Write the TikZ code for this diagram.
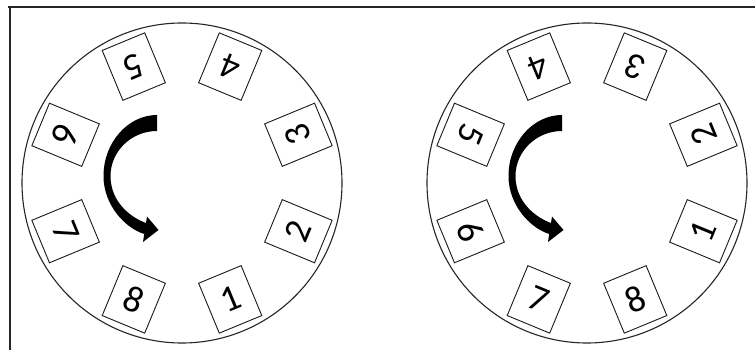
\documentclass[tikz,border=0pt]{standalone}
\usepackage{fontspec}
\setmainfont{Carlito}
\begin{document}
\begin{tikzpicture}[x=1pt,y=-1pt,
  wheel/.style={circle, draw=black!85, line width=1.1pt, minimum size=320pt, inner sep=0pt},
  slot/.style={draw=black!90, line width=0.9pt, minimum width=46pt, minimum height=54pt, inner sep=0pt, font=\fontsize{37}{37}\selectfont},
  frameline/.style={draw=black!85, line width=1.4pt},
  bigturn/.pic={
    \fill[black] (-25,-68) .. controls (-54,-68) and (-78.5,-40.5) .. (-78.5,-7)
      .. controls (-78.5,22) and (-57,45) .. (-37.8,51)
      -- (-39,59) -- (-23.5,47) -- (-35,33.5) -- (-36,40)
      .. controls (-50,35) and (-71.5,20) .. (-71.5,-7)
      .. controls (-71.5,-31.7) and (-50.6,-52) .. (-25,-52) -- cycle;
  }]
\useasboundingbox (0,0) rectangle (755,355);
\draw[frameline] (8,7) -- (755,7);
\draw[frameline] (10,7) -- (10,350);
% left wheel
\node[wheel] (wl) at (182,183) {};
\pic at (wl.center) {bigturn};
\foreach \k in {1,...,8} {
  \pgfmathsetmacro\a{-67.5+45*(\k-1)}
  \pgfmathsetmacro\r{\a+90}
  \node[slot, rotate=\r] (l\k) at ({182+126*cos(\a)},{183-126*sin(\a)}) {\k};
}
% right wheel
\node[wheel] (wr) at (587,183) {};
\pic at (wr.center) {bigturn};
\foreach \k in {1,...,8} {
  \pgfmathsetmacro\a{-22.5+45*(\k-1)}
  \pgfmathsetmacro\r{\a+90}
  \node[slot, rotate=\r] (r\k) at ({587+126*cos(\a)},{183-126*sin(\a)}) {\k};
}
\end{tikzpicture}
\end{document}
